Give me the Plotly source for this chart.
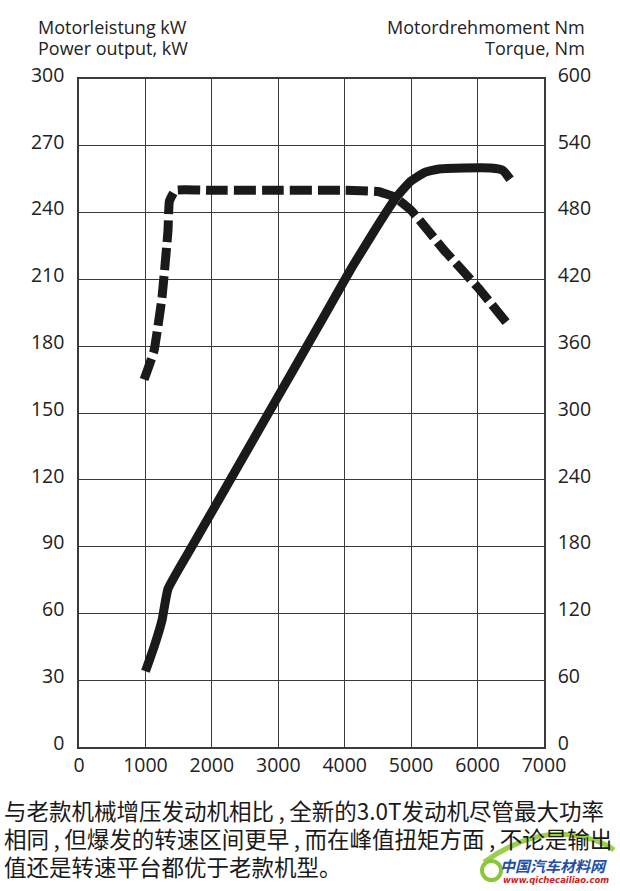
import plotly.graph_objects as go

# Power output (kW), left axis
power_rpm = [1000, 1130, 1250, 1340, 1700, 2200, 2700, 3200, 3700, 4100, 4430, 4620, 4780, 4990, 5200, 5400, 5800, 6200, 6380, 6490]
power_kw  = [34, 45, 57, 71, 90, 116, 142, 168, 194, 215, 231, 240, 247, 254, 258, 259.5, 260, 260, 259, 255]

# Torque (Nm), right axis
torque_rpm = [980, 1130, 1250, 1340, 1360, 1450, 2000, 3000, 4000, 4500, 4750, 5000, 5500, 6000, 6480]
torque_nm  = [330, 356, 404, 464, 490, 500, 500, 500, 500, 499, 494, 482, 446, 413, 378]

x_ticks = [0, 1000, 2000, 3000, 4000, 5000, 6000, 7000]
left_ticks = [0, 30, 60, 90, 120, 150, 180, 210, 240, 270, 300]
right_ticks = [0, 60, 120, 180, 240, 300, 360, 420, 480, 540, 600]

C = "\u2009,\u2009"
caption_lines = [
    "与老款机械增压发动机相比" + C + "全新的3.0T发动机尽管最大功率",
    "相同" + C + "但爆发的转速区间更早" + C + "而在峰值扭矩方面" + C + "不论是输出",
    "值还是转速平台都优于老款机型。",
]

W, H = 620, 891
L, T = 79, 79
pw, ph = 465, 668
R = W - L - pw
B = H - T - ph

def px(x):
    return (x - L) / pw

def py(y):
    return (T + ph - y) / ph

grid_col = "#3a3a3a"
txt_col = "#222222"
tick_font = dict(family="Open Sans, DejaVu Sans, sans-serif", size=19.5, color=txt_col)

fig = go.Figure()
fig.add_trace(go.Scatter(
    x=power_rpm, y=power_kw, mode="lines", yaxis="y",
    line=dict(color="#1a1a1a", width=9, shape="spline", smoothing=0.4),
    showlegend=False, hoverinfo="skip"))
fig.add_trace(go.Scatter(
    x=torque_rpm, y=torque_nm, mode="lines", yaxis="y2",
    line=dict(color="#1a1a1a", width=9, dash="22px,6px", shape="spline", smoothing=0.3),
    showlegend=False, hoverinfo="skip"))

fig.update_layout(
    width=W, height=H,
    margin=dict(l=L, r=R, t=T, b=B, autoexpand=False),
    paper_bgcolor="white", plot_bgcolor="white",
    xaxis=dict(range=[0, 7000], tickvals=x_ticks, ticktext=[str(v) for v in x_ticks],
               showgrid=True, gridcolor=grid_col, gridwidth=1.2,
               showline=True, linecolor=grid_col, linewidth=1.5, mirror=True,
               ticks="", ticklabelstandoff=0, tickfont=tick_font, zeroline=False,
               automargin=False),
    yaxis=dict(range=[0, 300], tickvals=left_ticks, ticktext=[str(v) for v in left_ticks],
               showgrid=True, gridcolor=grid_col, gridwidth=1.2,
               showline=True, linecolor=grid_col, linewidth=1.5,
               ticks="", ticklabelstandoff=9, ticklabelshift=-4, tickfont=tick_font,
               zeroline=False, automargin=False),
    yaxis2=dict(range=[0, 600], tickvals=right_ticks, ticktext=[str(v) for v in right_ticks],
                overlaying="y", side="right", showgrid=False,
                showline=True, linecolor=grid_col, linewidth=1.5,
                ticks="", ticklabelstandoff=8, ticklabelshift=-4, tickfont=tick_font,
                zeroline=False, automargin=False),
)

title_font = dict(family="Open Sans, DejaVu Sans, sans-serif", size=18, color=txt_col)
annos = [
    dict(text="Motorleistung kW", x=px(36), y=py(27), xanchor="left"),
    dict(text="Power output, kW", x=px(36), y=py(48), xanchor="left"),
    dict(text="Motordrehmoment Nm", x=px(587), y=py(27), xanchor="right"),
    dict(text="Torque, Nm", x=px(587), y=py(48), xanchor="right"),
]
for a in annos:
    fig.add_annotation(xref="paper", yref="paper", yanchor="middle", showarrow=False,
                       font=title_font, **a)

cap_font = dict(family="Noto Sans CJK SC, sans-serif", size=22.5, color="#1a1a1a")
for i, line in enumerate(caption_lines):
    fig.add_annotation(xref="paper", yref="paper", x=px(2), y=py(810 + 28 * i),
                       xanchor="left", yanchor="middle", showarrow=False,
                       text=line, font=cap_font)

# watermark
fig.add_shape(type="path", xref="paper", yref="paper", layer="above",
              path=f"M {px(484)},{py(862)} Q {px(530)},{py(830)} {px(570)},{py(835)} "
                   f"Q {px(600)},{py(839)} {px(614)},{py(850)}",
              line=dict(color="#9bcf4a", width=5))
fig.add_shape(type="circle", xref="paper", yref="paper", layer="above",
              x0=px(482), x1=px(501), y0=py(880), y1=py(861),
              line=dict(color="#8cc63e", width=4))
fig.add_annotation(xref="paper", yref="paper", x=px(609), y=py(866), xanchor="right",
                   yanchor="middle", showarrow=False, text="<b><i>中国汽车材料网</i></b>",
                   font=dict(family="Noto Sans CJK SC, sans-serif", size=15, color="#1f4fa8"))
fig.add_annotation(xref="paper", yref="paper", x=px(611), y=py(880), xanchor="right",
                   yanchor="middle", showarrow=False, text="<b><i>www.qichecailiao.com</i></b>",
                   font=dict(family="DejaVu Sans, sans-serif", size=8.5, color="#d0201a"))

fig.write_html("out.html", post_script="document.body.style.margin='0';",
               config={"displayModeBar": False})
